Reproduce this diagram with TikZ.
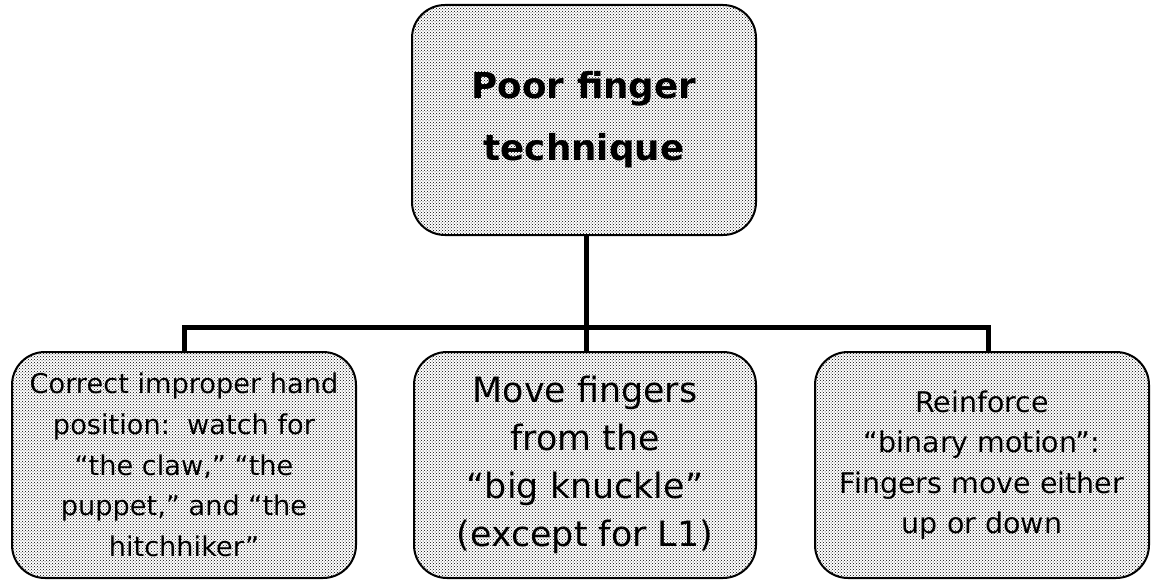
\documentclass[tikz,border=0pt]{standalone}
\usepackage{fontspec}
\setmainfont{DejaVu Sans}
\usetikzlibrary{patterns}
\begin{document}
\begin{tikzpicture}[x=1pt,y=-1pt,
  box/.style={draw=black, line width=2pt, rounded corners=33pt,
    preaction={fill=white}, pattern=crosshatch dots, pattern color=black,
    inner sep=0pt, align=center},
  conn/.style={draw=black, line width=5pt, line join=miter}]
\useasboundingbox (0,0) rectangle (1153,583);
\node[box, minimum width=344pt, minimum height=230pt,
  font=\bfseries\fontsize{35.7}{62}\selectfont] (top) at (584,120)
  {Poor finger\\technique};
\node[box, minimum width=344pt, minimum height=226pt,
  font=\fontsize{27.2}{40.8}\selectfont] (left) at (184,465)
  {Correct improper hand\\position:\ \ watch for\\“the claw,” “the\\puppet,” and “the\\hitchhiker”};
\node[box, minimum width=342pt, minimum height=226pt,
  font=\fontsize{34.9}{48}\selectfont] (mid) at (585,465)
  {Move fingers\\from the\\“big knuckle”\\(except for L1)};
\node[box, minimum width=334pt, minimum height=226pt,
  font=\fontsize{28.5}{40.3}\selectfont] (right) at (982,465)
  {Reinforce\\“binary motion”:\\Fingers move either\\up or down};
\coordinate (bus) at (586,327);
\coordinate (rj) at (988,327);
\draw[conn] (bus |- top.south) -- (bus |- mid.north);
\draw[conn] (left.north) -- (left.north |- bus) -- (rj) -- (rj |- right.north);
\end{tikzpicture}
\end{document}
